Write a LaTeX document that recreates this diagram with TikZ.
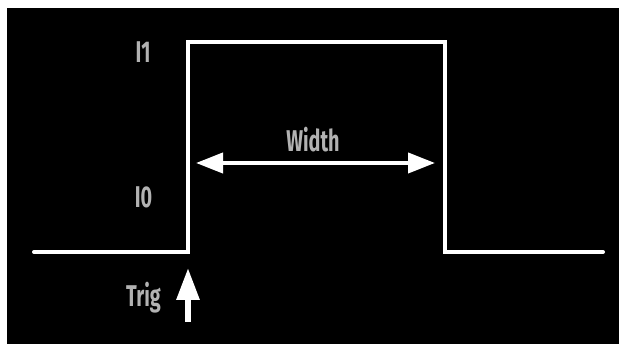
\documentclass[tikz,border=0pt]{standalone}
\usepackage{fontspec}
\newfontfamily\labelfont[FakeStretch=0.66]{Fira Sans}
\usepackage{tikz}
\usetikzlibrary{arrows.meta}

\definecolor{labelgray}{RGB}{178,178,178}

\tikzset{
	wave/.style={draw=white,line width=4pt,line join=miter,line cap=round},
	levellabel/.style={anchor=base,inner sep=0pt,text=labelgray,font=\labelfont\bfseries\fontsize{30}{30}\selectfont},
	widtharrow/.style={draw=white,line width=4pt,{Triangle[length=27pt,width=20pt]}-{Triangle[length=27pt,width=20pt]}},
	trigarrow/.style={draw=white,line width=6pt,-{Triangle[length=32pt,width=22pt]}}
}

\begin{document}
\begin{tikzpicture}
				%\draw[color=gray,step=10pt, help lines,opacity=0.3] (0pt,0pt) grid (619pt,344pt); %help grids
				\useasboundingbox (0pt,0pt) rectangle (619pt,344pt);
				\fill[white] (0pt,0pt) rectangle (619pt,344pt);
				\fill[black] (7pt,0pt) rectangle (619pt,336pt);

				% pulse corners
				\coordinate (lowleft) at (34pt,92pt);
				\coordinate (riselow) at (188pt,92pt);
				\coordinate (risehigh) at (188pt,302pt);
				\coordinate (fallhigh) at (445pt,302pt);
				\coordinate (falllow) at (445pt,92pt);
				\coordinate (lowright) at (603pt,92pt);
				\draw[wave] (lowleft)--(riselow)--(risehigh)--(fallhigh)--(falllow)--(lowright);

				\node[levellabel] (levelIone) at (143pt,281pt) {I1};
				\node[levellabel] (levelIzero) at (143.5pt,136pt) {I0};

				% width arrow
				\coordinate (widthleft) at (196pt,181pt);
				\coordinate (widthright) at (435pt,181pt);
				\draw[widtharrow] (widthleft)--(widthright);
				\node[levellabel] (widthlabel) at (313pt,192pt) {Width};

				% trigger
				\coordinate (trigfoot) at (188pt,22pt);
				\coordinate (trigtip) at (188pt,76pt);
				\draw[trigarrow] (trigfoot)--(trigtip);
				\node[levellabel] (triglabel) at (143.5pt,37pt) {Trig};
\end{tikzpicture}
\end{document}
